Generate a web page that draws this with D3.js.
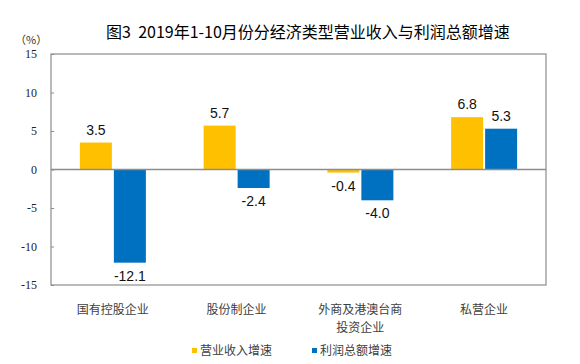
<!DOCTYPE html>
<html><head><meta charset="utf-8">
<script src="https://cdn.jsdelivr.net/npm/d3@7"></script>
<style>body{margin:0;background:#fff}svg{display:block}</style>
</head><body>
<svg id="c" width="580" height="364"></svg>
<script>
const categories = ["国有控股企业","股份制企业","外商及港澳台商\n投资企业","私营企业"];
const seriesNames = ["营业收入增速","利润总额增速"];
const revenue = [3.5, 5.7, -0.4, 6.8];
const profit = [-12.1, -2.4, -4.0, 5.3];
const yTicks = [15, 10, 5, 0, -5, -10, -15];
const colors = ["#FFC000", "#0070C0"];
const title = "图3  2019年1-10月份分经济类型营业收入与利润总额增速";

const svg = d3.select("#c");
const L = 51, R = 546, T = 54, B = 285;
const x = d3.scaleBand().domain(d3.range(categories.length)).range([L, R]);
const y = d3.scaleLinear().domain([-15, 15]).range([B, T]);
const barW = 32, gap = 2;
const grey = "#8c8c8c";

svg.append("text").attr("x", 308).attr("y", 38).attr("text-anchor", "middle")
  .attr("font-family", "'Noto Sans CJK SC', sans-serif").attr("font-size", 16).attr("fill", "#000")
  .attr("xml:space", "preserve").style("white-space", "pre").text(title);
svg.append("text").attr("x", 15).attr("y", 44)
  .attr("font-family", "'Noto Sans CJK SC', serif").attr("font-size", 11).attr("fill", "#333").text("（%）");

// plot border
svg.append("rect").attr("x", L).attr("y", T).attr("width", R - L).attr("height", B - T)
  .attr("fill", "none").attr("stroke", grey).attr("stroke-width", 1.2);

// y axis
const yAxis = d3.axisLeft(y).tickValues(yTicks).tickSize(-3).tickPadding(14).tickFormat(d => String(d));
const ga = svg.append("g").attr("transform", `translate(${L},0)`).call(yAxis);
ga.attr("font-family", null);
ga.select(".domain").remove();
ga.selectAll(".tick line").attr("stroke", grey);
ga.selectAll(".tick text").attr("font-family", "'Liberation Serif', 'Times New Roman', serif").attr("font-size", 12).attr("fill", "#222");

const series = [revenue, profit];
series.forEach((vals, si) => {
  const g = svg.append("g");
  vals.forEach((v, i) => {
    const cx = x(i) + x.bandwidth() / 2;
    const bx = si === 0 ? cx - gap / 2 - barW : cx + gap / 2;
    g.append("rect").attr("x", bx).attr("width", barW)
      .attr("y", y(Math.max(0, v))).attr("height", Math.abs(y(v) - y(0)))
      .attr("fill", colors[si]);
    g.append("text").attr("x", bx + barW / 2)
      .attr("y", v >= 0 ? y(v) - 8 : y(v) + 18)
      .attr("text-anchor", "middle").attr("font-family", "'Liberation Sans', Arial, sans-serif")
      .attr("font-size", 14).attr("fill", "#111").text(v.toFixed(1));
  });
});

// zero line
svg.append("line").attr("x1", L).attr("x2", R).attr("y1", y(0)).attr("y2", y(0))
  .attr("stroke", grey).attr("stroke-width", 1.5);

// category labels
categories.forEach((c, i) => {
  const cx = x(i) + x.bandwidth() / 2;
  c.split("\n").forEach((line, k) => {
    svg.append("text").attr("x", cx).attr("y", 314 + k * 18).attr("text-anchor", "middle")
      .attr("font-family", "'Noto Sans CJK SC', sans-serif").attr("font-size", 12).attr("fill", "#404040").text(line);
  });
});

// legend
const legX = [192, 312];
seriesNames.forEach((n, i) => {
  svg.append("rect").attr("x", legX[i]).attr("y", 348).attr("width", 5).attr("height", 5).attr("fill", colors[i]);
  svg.append("text").attr("x", legX[i] + 8).attr("y", 355)
    .attr("font-family", "'Noto Sans CJK SC', sans-serif").attr("font-size", 12).attr("fill", "#404040").text(n);
});
</script>
</body></html>
